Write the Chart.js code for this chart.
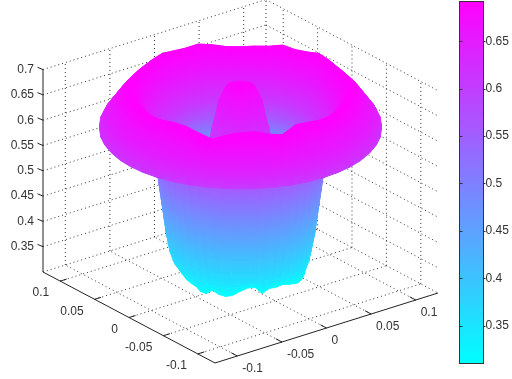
<!DOCTYPE html>
<html>
<head>
<meta charset="utf-8">
<script src="https://cdn.jsdelivr.net/npm/chart.js@4"></script>
<style>
  html, body { margin: 0; background: #fff; }
  #surf { position: absolute; left: 0; top: 0; }
  #bar { position: absolute; left: 440px; top: 0; }
</style>
</head>
<body>
<canvas id="surf" width="512" height="379"></canvas>
<canvas id="bar" width="72" height="379"></canvas>
<script>
// ---- DATA ----
const xTicks = [-0.1, -0.05, 0, 0.05, 0.1];
const yTicks = [-0.1, -0.05, 0, 0.05, 0.1];
const zTicks = [0.35, 0.4, 0.45, 0.5, 0.55, 0.6, 0.65, 0.7];
const colorTicks = [0.35, 0.4, 0.45, 0.5, 0.55, 0.6, 0.65];

// meridian of the goblet: foot -> stem -> flange -> crest -> bowl -> dome
const profileRadius = [.050,.053,.056,.060,.063,.066,.068,.070,.072,.074,.076,.080,.090,.100,.110,.118,.123,.125,.125,.122,.117,.110,.104,.098,.092,.085,.078,.070,.062,.055,.048,.042,.036,.032,.028,.025,.022,.019,.013,.006,0];
const profileHeight = [.320,.328,.338,.350,.368,.400,.430,.460,.490,.520,.540,.565,.575,.582,.588,.592,.597,.602,.612,.624,.638,.658,.670,.681,.672,.650,.625,.600,.575,.555,.535,.525,.530,.535,.570,.607,.630,.660,.686,.690,.692];
const profileShade = [.310,.320,.335,.350,.368,.400,.430,.460,.490,.520,.540,.565,.575,.580,.585,.590,.600,.610,.625,.640,.655,.670,.685,.692,.685,.665,.640,.610,.560,.500,.470,.460,.450,.580,.600,.620,.640,.660,.680,.690,.692];
const footWeight = [1,.8,.5,.2,0,0,0,0,0,0,0,0,0,0,0,0,0,0,0,0,0,0,0,0,0,0,0,0,0,0,0,0,0,0,0,0,0,0,0,0,0];
const rimWeight = [0,0,0,0,0,0,0,0,0,0,0,0,0,0,0,0,0,0,0,0,.2,.5,.8,1,.8,.5,.2,0,0,0,0,0,0,0,0,0,0,0,0,0,0];

// edge ripple, one value every 7.5 degrees round the view (90 = towards viewer)
const rimWave = [0,0,0,0,0,0,.002,.006,.008,-.007,-.002,.005,.004,-.002,-.012,-.003,.005,.006,.002,0,0,0,0,0,0,0,0,0,.004,.006,.009,.006,.005,.008,.003,-.003,-.004,-.002,0,.006,.002,.004,.009,.006,.002,0,0,0];
const footWave = [-.006,-.006,-.004,-.002,.002,.006,.01,.008,.008,0,.014,.014,.008,0,-.004,-.002,.004,-.006,-.006,0,0,0,0,0,0,0,0,0,0,0,0,0,0,0,0,0,0,0,0,0,0,0,0,0,0,0,0,0];
const footSpread = [.005,.005,.005,.005,.004,.004,.003,.002,.001,0,0,0,0,0,0,0,0,0,0,0,0,0,0,0,0,0,0,0,0,0,0,0,0,0,0,0,0,0,0,0,0,0,0,0,0,0,0,0];

const xyLimit = 0.125;
const zMin = 0.3, zMax = 0.7;
const cMin = 0.31, cMax = 0.692;

// ---- VIEW ----
function project(x, y, z){
  return {
    x: 240.5 + 892 * x - 688 * y,
    y: 282.5 - 280 * x - 364 * y - 506 * (z - zMin)
  };
}
function coolColor(v){
  const t = Math.max(0, Math.min(1, (v - cMin) / (cMax - cMin)));
  return 'rgb(' + Math.round(255 * t) + ',' + Math.round(255 * (1 - t)) + ',255)';
}

function lineSet(a, b, dashed){
  return {
    data: [a, b],
    showLine: true,
    pointRadius: 0,
    fill: false,
    borderWidth: 1,
    borderColor: dashed ? '#333' : '#222',
    borderDash: dashed ? [1, 3] : []
  };
}
function seg(p, q, dashed){
  return lineSet(project(p[0], p[1], p[2]), project(q[0], q[1], q[2]), dashed);
}

// ---- SURFACE ----
const surfCtx = document.getElementById('surf').getContext('2d');

function meshPoint(row, i){
  const phi = i / rimWave.length * 2 * Math.PI;
  const r = profileRadius[row] + footWeight[row] * footSpread[i];
  const z = profileHeight[row] + rimWeight[row] * rimWave[i] + footWeight[row] * footWave[i];
  const c = Math.cos(phi), s = Math.sin(phi);
  return [r * (c * 0.792 - s * 0.61), r * (-c * 0.61 - s * 0.792), z, r * s];
}

function surfaceSets(){
  const n = rimWave.length;
  const quads = [];
  for (let row = 0; row < profileRadius.length - 1; row++){
    for (let i = 0; i < n; i++){
      const pts = [meshPoint(row, i), meshPoint(row, (i + 1) % n), meshPoint(row + 1, (i + 1) % n), meshPoint(row + 1, i)];
      let depth = 0;
      pts.forEach(p => { depth += p[3] * 1028 + (p[2] - zMin) * 225; });
      const poly = pts.map(p => project(p[0], p[1], p[2]));
      // shade runs from this row to the next across the patch
      const g = surfCtx.createLinearGradient(
        (poly[0].x + poly[1].x) / 2, (poly[0].y + poly[1].y) / 2,
        (poly[2].x + poly[3].x) / 2, (poly[2].y + poly[3].y) / 2);
      g.addColorStop(0, coolColor(profileShade[row]));
      g.addColorStop(1, coolColor(profileShade[row + 1]));
      poly.push(poly[0]);
      quads.push({ depth: depth, set: {
        data: poly, showLine: true, pointRadius: 0, fill: 'shape',
        backgroundColor: g, borderColor: g, borderWidth: 0.8
      }});
    }
  }
  // first dataset ends up on top in Chart.js
  quads.sort((a, b) => b.depth - a.depth);
  return quads.map(q => q.set);
}

// ---- BOX ----
function boxSets(){
  const L = xyLimit;
  const out = [];
  // solid axes
  out.push(seg([-L, L, zMin], [-L, L, zMax], false));
  out.push(seg([-L, L, zMin], [-L, -L, zMin], false));
  out.push(seg([-L, -L, zMin], [L, -L, zMin], false));
  zTicks.forEach(z => {
    const a = project(-L, L, z);
    out.push(lineSet(a, { x: a.x - 5.5, y: a.y - 2.3 }, false));
  });
  yTicks.forEach(y => {
    const a = project(-L, y, zMin);
    out.push(lineSet(a, { x: a.x + 6.5, y: a.y - 2 }, false));
  });
  xTicks.forEach(x => {
    const a = project(x, -L, zMin);
    out.push(lineSet(a, { x: a.x - 6, y: a.y - 3.2 }, false));
  });
  // dotted grid on both back walls and the floor
  zTicks.forEach(z => {
    out.push(seg([-L, L, z], [L, L, z], true));
    out.push(seg([L, L, z], [L, -L, z], true));
  });
  xTicks.forEach(x => {
    out.push(seg([x, L, zMin], [x, L, zMax], true));
    out.push(seg([x, -L, zMin], [x, L, zMin], true));
  });
  yTicks.forEach(y => {
    out.push(seg([L, y, zMin], [L, y, zMax], true));
    out.push(seg([-L, y, zMin], [L, y, zMin], true));
  });
  out.push(seg([-L, L, zMin], [L, L, zMin], true));
  out.push(seg([L, L, zMin], [L, -L, zMin], true));
  out.push(seg([L, L, zMin], [L, L, zMax], true));
  return out;
}

const tickText = {
  id: 'tickText',
  afterDraw(chart){
    const c = chart.ctx;
    const L = xyLimit;
    const sx = chart.scales.x, sy = chart.scales.y;
    c.save();
    c.font = '12px "Liberation Sans", Arial, sans-serif';
    c.fillStyle = '#333';
    c.textBaseline = 'middle';
    c.textAlign = 'right';
    zTicks.forEach(z => {
      const a = project(-L, L, z);
      c.fillText(String(z), sx.getPixelForValue(a.x) - 9, sy.getPixelForValue(a.y));
    });
    yTicks.forEach(y => {
      const a = project(-L, y, zMin);
      c.fillText(String(y), sx.getPixelForValue(a.x) - 11, sy.getPixelForValue(a.y) + 12);
    });
    c.textAlign = 'left';
    xTicks.forEach(x => {
      const a = project(x, -L, zMin);
      c.fillText(String(x), sx.getPixelForValue(a.x) + 5, sy.getPixelForValue(a.y) + 13);
    });
    c.restore();
  }
};

new Chart(surfCtx, {
  type: 'scatter',
  data: { datasets: surfaceSets().concat(boxSets()) },
  options: {
    responsive: false,
    animation: false,
    events: [],
    elements: { line: { tension: 0 } },
    plugins: { legend: { display: false }, tooltip: { enabled: false } },
    scales: {
      x: { type: 'linear', display: false, min: 0, max: 512 },
      y: { type: 'linear', display: false, min: 0, max: 379, reverse: true }
    }
  },
  plugins: [tickText]
});

// ---- COLORBAR ----
const barFrame = {
  id: 'barFrame',
  afterDraw(chart){
    const c = chart.ctx, a = chart.chartArea, sy = chart.scales.y;
    c.save();
    c.strokeStyle = '#333';
    c.lineWidth = 1;
    c.strokeRect(a.left, a.top, a.right - a.left, a.bottom - a.top);
    c.beginPath();
    colorTicks.forEach(v => {
      const p = Math.round(sy.getPixelForValue(v)) + 0.5;
      c.moveTo(a.left, p); c.lineTo(a.left + 3, p);
      c.moveTo(a.right, p); c.lineTo(a.right + 2, p);
    });
    c.stroke();
    c.restore();
  }
};

new Chart(document.getElementById('bar').getContext('2d'), {
  type: 'bar',
  data: {
    labels: [''],
    datasets: [{
      data: [[cMin, cMax]],
      barPercentage: 1,
      categoryPercentage: 1,
      backgroundColor(ctx){
        const a = ctx.chart.chartArea;
        if (!a) return '#f0f';
        const g = ctx.chart.ctx.createLinearGradient(0, a.bottom, 0, a.top);
        g.addColorStop(0, coolColor(cMin));
        g.addColorStop(1, coolColor(cMax));
        return g;
      }
    }]
  },
  options: {
    responsive: false,
    animation: false,
    events: [],
    layout: { padding: { left: 19.5, top: 1.5, bottom: 15.5, right: 0 } },
    plugins: { legend: { display: false }, tooltip: { enabled: false } },
    scales: {
      x: { display: false },
      y: {
        position: 'right',
        min: cMin,
        max: cMax,
        afterBuildTicks(scale){ scale.ticks = colorTicks.map(v => ({ value: v })); },
        afterFit(scale){ scale.width = 28.5; scale.paddingTop = 0; scale.paddingBottom = 0; },
        grid: { display: false, drawTicks: false },
        border: { display: false },
        ticks: {
          color: '#333',
          padding: 2,
          font: { family: '"Liberation Sans", Arial, sans-serif', size: 12 },
          callback(v){ return String(v); }
        }
      }
    }
  },
  plugins: [barFrame]
});
</script>
</body>
</html>
